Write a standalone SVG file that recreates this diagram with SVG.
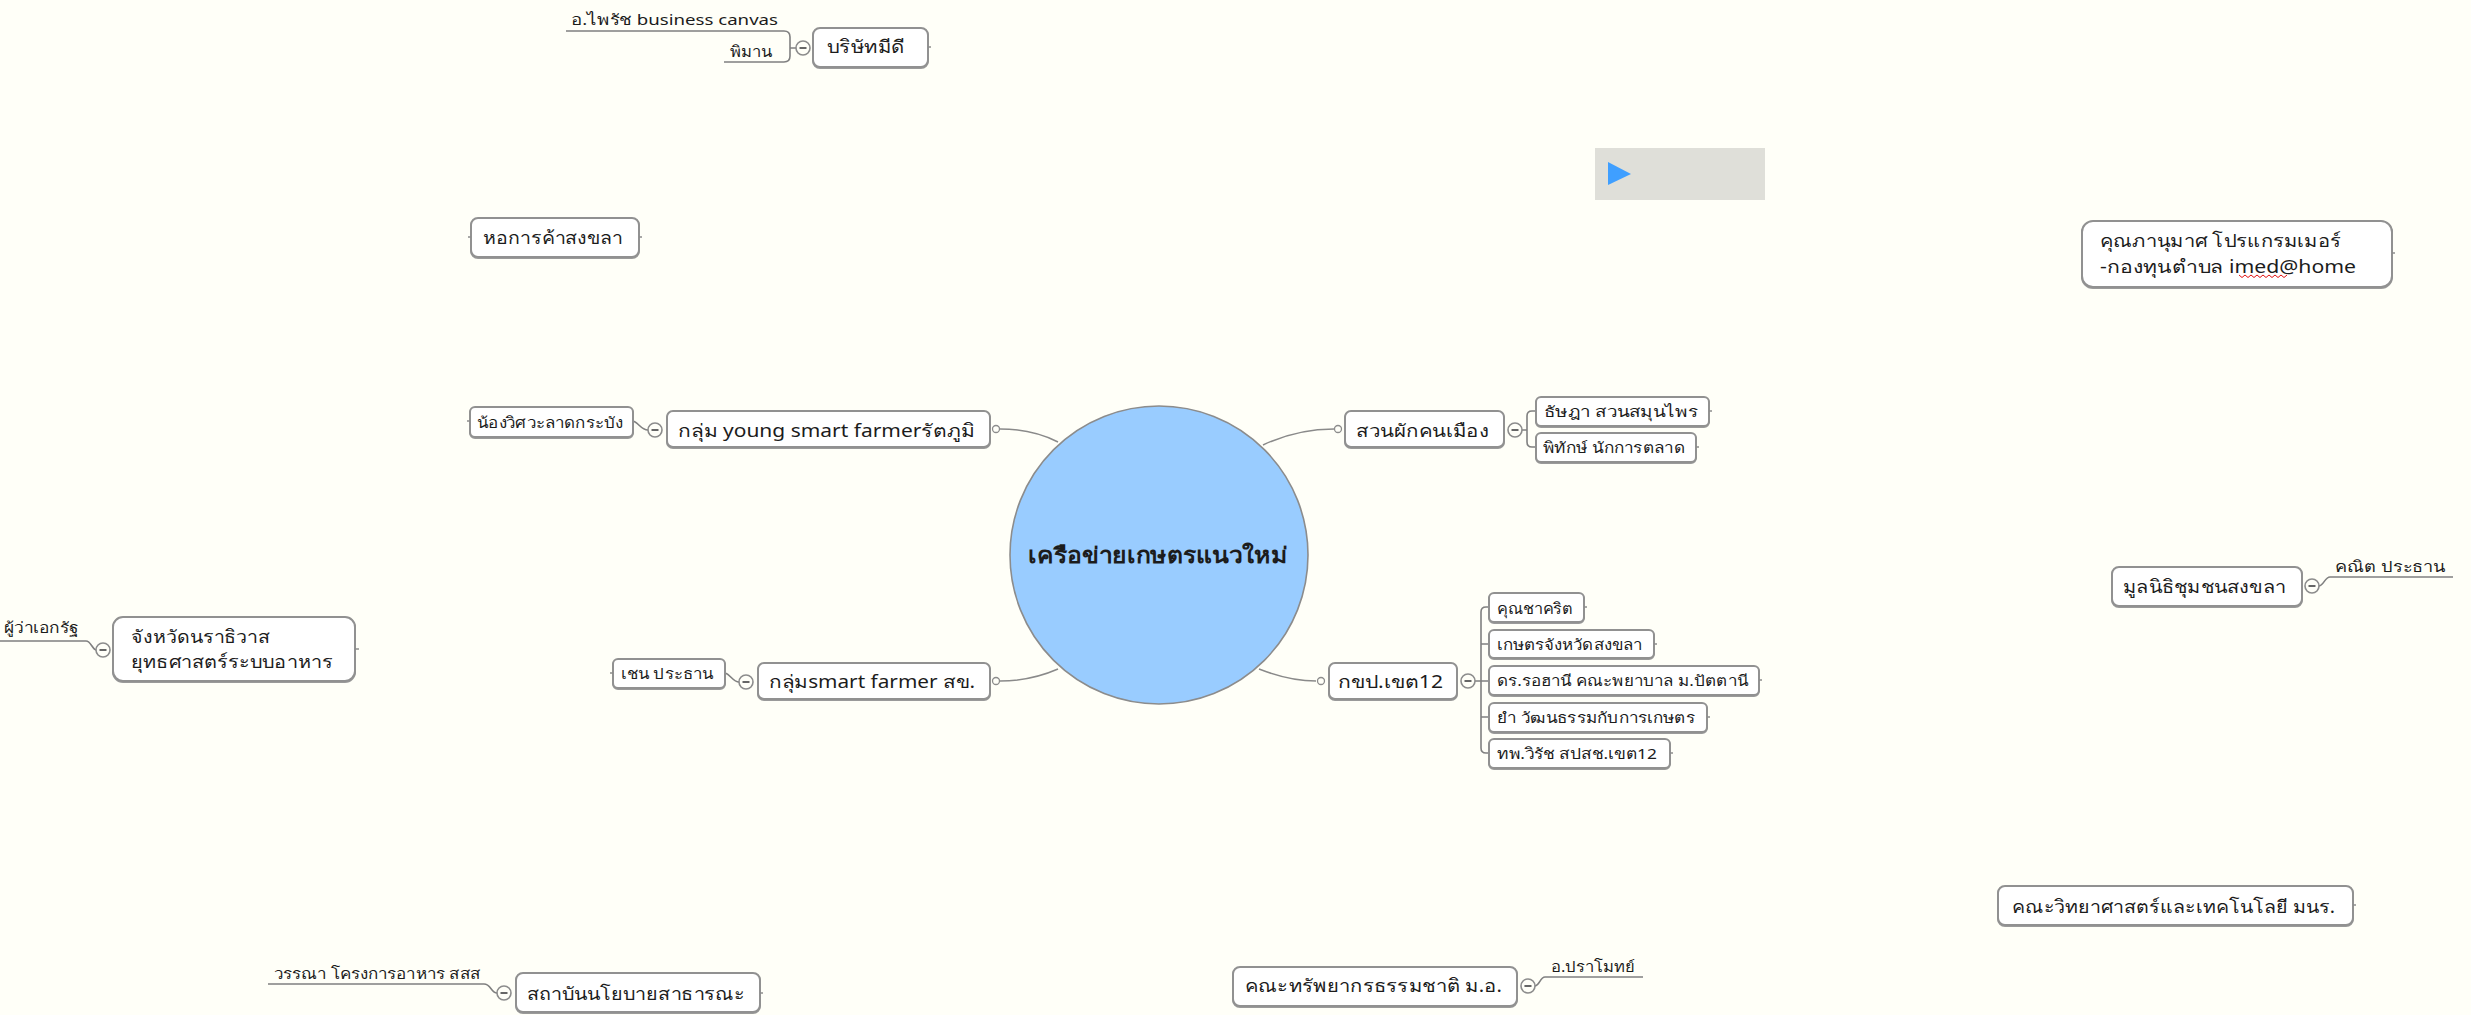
<svg xmlns="http://www.w3.org/2000/svg" width="2471" height="1015" viewBox="0 0 2471 1015">
<style>
text{font-family:"Noto Sans","Liberation Sans","Noto Sans CJK SC",sans-serif;fill:#1c1c1c;font-size:18px}
.s{font-size:15px}
.b{fill:#fff;stroke:#919191;stroke-width:2;filter:url(#sh)}
.u{fill:none;stroke:#808080;stroke-width:1.6}
.c{fill:none;stroke:#8a8a8a;stroke-width:1.5}
.t{fill:none;stroke:#8c8c8c;stroke-width:1.5}
</style>
<defs>
<filter id="sh" x="-5%" y="-10%" width="110%" height="125%"><feDropShadow dx="0" dy="1" stdDeviation="0.6" flood-color="#9a9a9a"/></filter>
<g id="col"><circle r="7" fill="#fffff8" stroke="#8c8c8c" stroke-width="1.6"/><path d="M-3.500 0H3.500" stroke="#555" stroke-width="1.800"/></g>
<circle id="dot" r="3.500" fill="#fffff8" stroke="#8c8c8c" stroke-width="1.300"/>
</defs>
<rect width="2471" height="1015" fill="#fffff8"/>
<g id="connectors">
<path class="c" d="M1000 429C1025 429 1042 434 1058 442"/>
<path class="c" d="M1000 681C1025 681 1042 676 1058 669"/>
<path class="c" d="M1334 429C1305 429 1282 436 1263 445"/>
<path class="c" d="M1316 681C1295 681 1277 676 1259 669"/>
<path class="u" d="M566 31H784Q790 31 790 37V56Q790 62 784 62H724M790 48H796"/>
<path class="u" d="M633 421C638 422 641 430 648 430"/>
<path class="u" d="M725 673C730 674 733 682 739 682"/>
<path class="u" d="M1536 411H1532Q1527 411 1527 416V442Q1527 447 1532 447H1536M1522 430H1527"/>
<path class="u" d="M1489 607H1486Q1481 607 1481 612V748Q1481 753 1486 753H1489M1481 644H1489M1481 681H1489M1481 717H1489M1475 681H1481"/>
<path class="u" d="M2453 577H2330C2325 577 2324 585 2319 586"/>
<path class="u" d="M1643 977H1545C1540 977 1540 985 1535 986"/>
<path class="u" d="M0 641H86C91 641 92 649 96 650"/>
<path class="u" d="M268 984H484C491 984 491 993 497 993"/>
</g>
<g id="central"><circle cx="1159" cy="555" r="149" fill="#99ccff" stroke="#8c8c8c" stroke-width="1.600"/><text x="1028" y="563" textLength="260" lengthAdjust="spacingAndGlyphs" font-weight="700" style="font-size:22px">เครือข่ายเกษตรแนวใหม่</text></g>
<g id="n-mdt"><rect class="b" x="813" y="28" width="115" height="39" rx="7"/><path class="t" d="M928 47h3"/><use href="#col" x="803" y="48"/><text x="827" y="53" textLength="78" lengthAdjust="spacingAndGlyphs">บริษัทมีดี</text></g>
<g id="n-paichit"><text class="s" x="571" y="25" textLength="207" lengthAdjust="spacingAndGlyphs">อ.ไพรัช business canvas</text></g>
<g id="n-piman"><text class="s" x="730" y="57" textLength="42" lengthAdjust="spacingAndGlyphs">พิมาน</text></g>
<g id="n-chamber"><rect class="b" x="471" y="218" width="168" height="39" rx="7"/><path class="t" d="M468 237h3M639 237h3"/><text x="483" y="244" textLength="140" lengthAdjust="spacingAndGlyphs">หอการค้าสงขลา</text></g>
<g id="n-young"><rect class="b" x="667" y="411" width="323" height="36" rx="6"/><use href="#col" x="655" y="430"/><use href="#dot" x="996" y="429"/><text x="678" y="437" textLength="297" lengthAdjust="spacingAndGlyphs">กลุ่ม young smart farmerรัตภูมิ</text></g>
<g id="n-ladkrabang"><rect class="b" x="470" y="407" width="163" height="30" rx="5"/><path class="t" d="M467 421h3"/><text class="s" x="477" y="428" textLength="146" lengthAdjust="spacingAndGlyphs">น้องวิศวะลาดกระบัง</text></g>
<g id="n-sk"><rect class="b" x="758" y="663" width="232" height="36" rx="6"/><use href="#col" x="746" y="682"/><use href="#dot" x="996" y="681"/><text x="769" y="688" textLength="206" lengthAdjust="spacingAndGlyphs">กลุ่มsmart farmer สข.</text></g>
<g id="n-chen"><rect class="b" x="613" y="659" width="112" height="29" rx="5"/><path class="t" d="M610 673h3"/><text class="s" x="621" y="679" textLength="92" lengthAdjust="spacingAndGlyphs">เชน ประธาน</text></g>
<g id="n-garden"><rect class="b" x="1345" y="411" width="159" height="36" rx="6"/><use href="#col" x="1515" y="430"/><use href="#dot" x="1338" y="429"/><text x="1356" y="437" textLength="133" lengthAdjust="spacingAndGlyphs">สวนผักคนเมือง</text></g>
<g id="n-thanya"><rect class="b" x="1536" y="397" width="173" height="29" rx="5"/><path class="t" d="M1709 411h3"/><text class="s" x="1544" y="417" textLength="154" lengthAdjust="spacingAndGlyphs">ธัษฎา สวนสมุนไพร</text></g>
<g id="n-pitak"><rect class="b" x="1536" y="433" width="160" height="29" rx="5"/><path class="t" d="M1696 447h3"/><text class="s" x="1543" y="453" textLength="142" lengthAdjust="spacingAndGlyphs">พิทักษ์ นักการตลาด</text></g>
<g id="n-kbp"><rect class="b" x="1329" y="663" width="128" height="36" rx="6"/><use href="#col" x="1468" y="681"/><use href="#dot" x="1321" y="681"/><text x="1338" y="688" textLength="105" lengthAdjust="spacingAndGlyphs">กขป.เขต12</text></g>
<g id="n-chat"><rect class="b" x="1489" y="593" width="95" height="29" rx="5"/><path class="t" d="M1584 607h3"/><text class="s" x="1497" y="614" textLength="76" lengthAdjust="spacingAndGlyphs">คุณชาคริต</text></g>
<g id="n-kaset"><rect class="b" x="1489" y="630" width="165" height="28" rx="5"/><path class="t" d="M1654 644h3"/><text class="s" x="1497" y="650" textLength="145" lengthAdjust="spacingAndGlyphs">เกษตรจังหวัดสงขลา</text></g>
<g id="n-rohani"><rect class="b" x="1489" y="666" width="270" height="29" rx="5"/><path class="t" d="M1759 680h3"/><text class="s" x="1497" y="686" textLength="251" lengthAdjust="spacingAndGlyphs">ดร.รอฮานี คณะพยาบาล ม.ปัตตานี</text></g>
<g id="n-yam"><rect class="b" x="1489" y="703" width="218" height="29" rx="5"/><path class="t" d="M1707 717h3"/><text class="s" x="1497" y="723" textLength="198" lengthAdjust="spacingAndGlyphs">ยำ วัฒนธรรมกับการเกษตร</text></g>
<g id="n-wirat"><rect class="b" x="1489" y="739" width="181" height="29" rx="5"/><path class="t" d="M1670 753h3"/><text class="s" x="1497" y="759" textLength="160" lengthAdjust="spacingAndGlyphs">ทพ.วิรัช สปสช.เขต12</text></g>
<g id="n-play"><rect x="1595" y="148" width="170" height="52" fill="#dfdfd9"/><path d="M1608 162L1631 174L1608 185Z" fill="#3f9fff"/></g>
<g id="n-panumas"><rect class="b" x="2082" y="221" width="310" height="66" rx="11"/><path class="t" d="M2392 253h3"/><text x="2100" y="247" textLength="241" lengthAdjust="spacingAndGlyphs">คุณภานุมาศ โปรแกรมเมอร์</text><text x="2100" y="273" textLength="256" lengthAdjust="spacingAndGlyphs">-กองทุนตำบล imed@home</text><path d="M2239 275l3 2.500 3-2.500 3 2.500 3-2.500 3 2.500 3-2.500 3 2.500 3-2.500 3 2.500 3-2.500 3 2.500 3-2.500 3 2.500 3-2.500 3 2.500 3-2.500" fill="none" stroke="#e01010"/></g>
<g id="n-mulnithi"><rect class="b" x="2112" y="567" width="190" height="39" rx="7"/><use href="#col" x="2312" y="586"/><text x="2123" y="593" textLength="163" lengthAdjust="spacingAndGlyphs">มูลนิธิชุมชนสงขลา</text></g>
<g id="n-khanit"><text class="s" x="2335" y="572" textLength="110" lengthAdjust="spacingAndGlyphs">คณิต ประธาน</text></g>
<g id="n-science"><rect class="b" x="1998" y="886" width="355" height="39" rx="7"/><path class="t" d="M2353 905h3"/><text x="2012" y="913" textLength="323" lengthAdjust="spacingAndGlyphs">คณะวิทยาศาสตร์และเทคโนโลยี มนร.</text></g>
<g id="n-nara"><rect class="b" x="113" y="617" width="242" height="64" rx="10"/><path class="t" d="M355 649h4"/><use href="#col" x="103" y="650"/><text x="131" y="643" textLength="139" lengthAdjust="spacingAndGlyphs">จังหวัดนราธิวาส</text><text x="131" y="668" textLength="202" lengthAdjust="spacingAndGlyphs">ยุทธศาสตร์ระบบอาหาร</text></g>
<g id="n-ekarat"><text class="s" x="4" y="633" textLength="74" lengthAdjust="spacingAndGlyphs">ผู้ว่าเอกรัฐ</text></g>
<g id="n-policy"><rect class="b" x="516" y="973" width="244" height="39" rx="7"/><path class="t" d="M760 993h3"/><use href="#col" x="504" y="993"/><text x="527" y="1000" textLength="218" lengthAdjust="spacingAndGlyphs">สถาบันนโยบายสาธารณะ</text></g>
<g id="n-wanna"><text class="s" x="274" y="979" textLength="206" lengthAdjust="spacingAndGlyphs">วรรณา โครงการอาหาร สสส</text></g>
<g id="n-natres"><rect class="b" x="1233" y="967" width="284" height="39" rx="7"/><use href="#col" x="1528" y="986"/><text x="1245" y="992" textLength="257" lengthAdjust="spacingAndGlyphs">คณะทรัพยากรธรรมชาติ ม.อ.</text></g>
<g id="n-pramote"><text class="s" x="1551" y="972" textLength="84" lengthAdjust="spacingAndGlyphs">อ.ปราโมทย์</text></g>
</svg>
